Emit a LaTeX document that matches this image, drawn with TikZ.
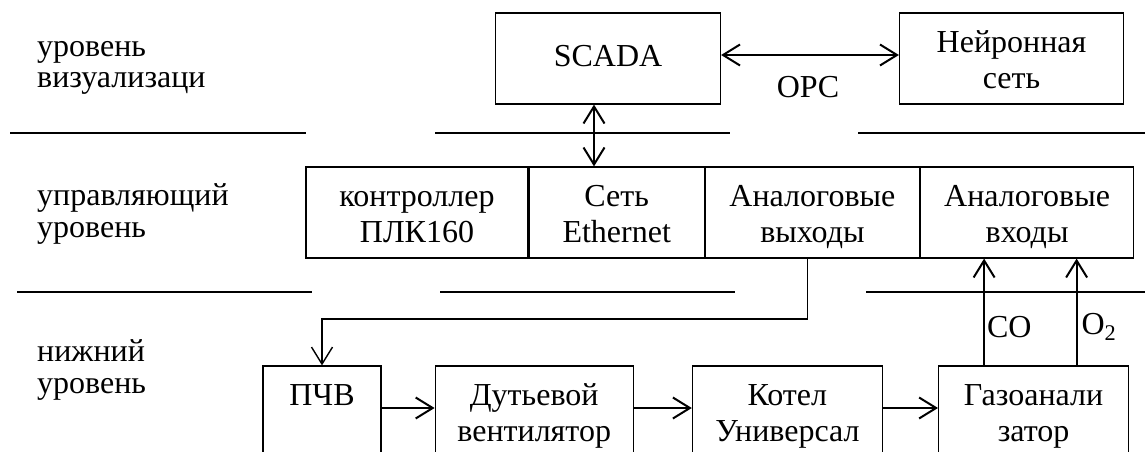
\documentclass[tikz,border=0pt]{standalone}
\usepackage{fontspec}
\setmainfont{Liberation Serif}
\usetikzlibrary{arrows.meta,positioning}
\newcommand{\twol}[2]{\rule{0pt}{35pt}#1\\#2\rule[-11pt]{0pt}{11pt}}
\tikzstyle{blk} = [rectangle, draw=black, line width=1.2pt, inner sep=0pt, align=center, minimum height=91pt, font=\fontsize{32}{36}\selectfont]
\tikzstyle{lvl} = [align=left, anchor=base west, inner sep=0pt, font=\fontsize{32}{32}\selectfont]
\tikzstyle{lbl} = [inner sep=0pt, font=\fontsize{32}{34}\selectfont]
\tikzstyle{sep} = [black, line width=2.6pt]
\tikzstyle{arr} = [line width=2pt, -{Straight Barb[length=17pt,width=21pt]}]
\tikzstyle{dbl} = [line width=2pt, {Straight Barb[length=17pt,width=21pt]}-{Straight Barb[length=17pt,width=21pt]}]
\begin{document}
\begin{tikzpicture}[x=1pt, y=-1pt]
		\clip (0,0) rectangle (1145,452);

		% level captions
		\node[lvl] (lv1) at (37,88)  {уровень\\визуализаци};
		\node[lvl] (lv2) at (37,237) {управляющий\\уровень};
		\node[lvl] (lv3) at (37,393) {нижний\\уровень};

		% level borders
		\draw[sep] (10,133) -- (306,133);
		\draw[sep] (435,133) -- (730,133);
		\draw[sep] (858,133) -- (1145,133);
		\draw[sep] (17,292) -- (312,292);
		\draw[sep] (440,292) -- (735,292);
		\draw[sep] (866,292) -- (1145,292);

		% top level
		\node[blk, minimum width=225pt] (scada) at (608,58.5) {SCADA\rule[-6pt]{0pt}{0pt}};
		\node[blk, minimum width=224pt] (nn) at (1011.5,58.5) {\twol{Нейронная}{сеть}};
		\draw[dbl] ([yshift=3.5pt]scada.east) -- ([yshift=3.5pt]nn.west);
		\node[lbl] (opc) at (808,87.5) {OPC};

		% control level
		\node[blk, minimum width=222pt] (plc) at (417,212.5) {\twol{контроллер}{ПЛК160}};
		\node[blk, minimum width=175pt, right=0pt of plc] (eth) {\twol{Сеть}{Ethernet}};
		\node[blk, minimum width=214pt, right=0pt of eth] (aout) {\twol{Аналоговые}{выходы}};
		\node[blk, minimum width=213pt, right=0pt of aout] (ain) {\twol{Аналоговые}{входы}};
		\coordinate (link) at (594,0);
		\draw[dbl] (scada.south -| link) -- (eth.north -| link);

		% field level
		\node[blk, minimum width=118pt] (pchv) at (322,411.5) {\twol{ПЧВ}{~}};
		\node[blk, minimum width=198pt, right=53pt of pchv] (fan) {\twol{Дутьевой}{вентилятор}};
		\node[blk, minimum width=190pt, right=58pt of fan] (boil) {\twol{Котел}{Универсал}};
		\node[blk, minimum width=190pt, right=55pt of boil] (gas) {\twol{Газоанали}{затор}};
		\draw[arr] ([yshift=3.5pt]pchv.east) -- ([yshift=3.5pt]fan.west);
		\draw[arr] ([yshift=3.5pt]fan.east) -- ([yshift=3.5pt]boil.west);
		\draw[arr] ([yshift=3.5pt]boil.east) -- ([yshift=3.5pt]gas.west);

		% feedback to drive
		\coordinate (bend) at (322,319);
		\draw[arr, line width=1.4pt] ([xshift=-5pt]aout.south) |- (bend) -- (bend |- pchv.north);

		% gas signals
		\draw[arr] ([xshift=-49.5pt]gas.north) -- ([xshift=-49.5pt]gas.north |- ain.south)
			node[lbl, pos=0.36, anchor=west, xshift=2pt] (co) {CO};
		\draw[arr] ([xshift=43pt]gas.north) -- ([xshift=43pt]gas.north |- ain.south)
			node[lbl, pos=0.36, anchor=west, xshift=4pt] (o2) {O\textsubscript{2}};
	\end{tikzpicture}
\end{document}
